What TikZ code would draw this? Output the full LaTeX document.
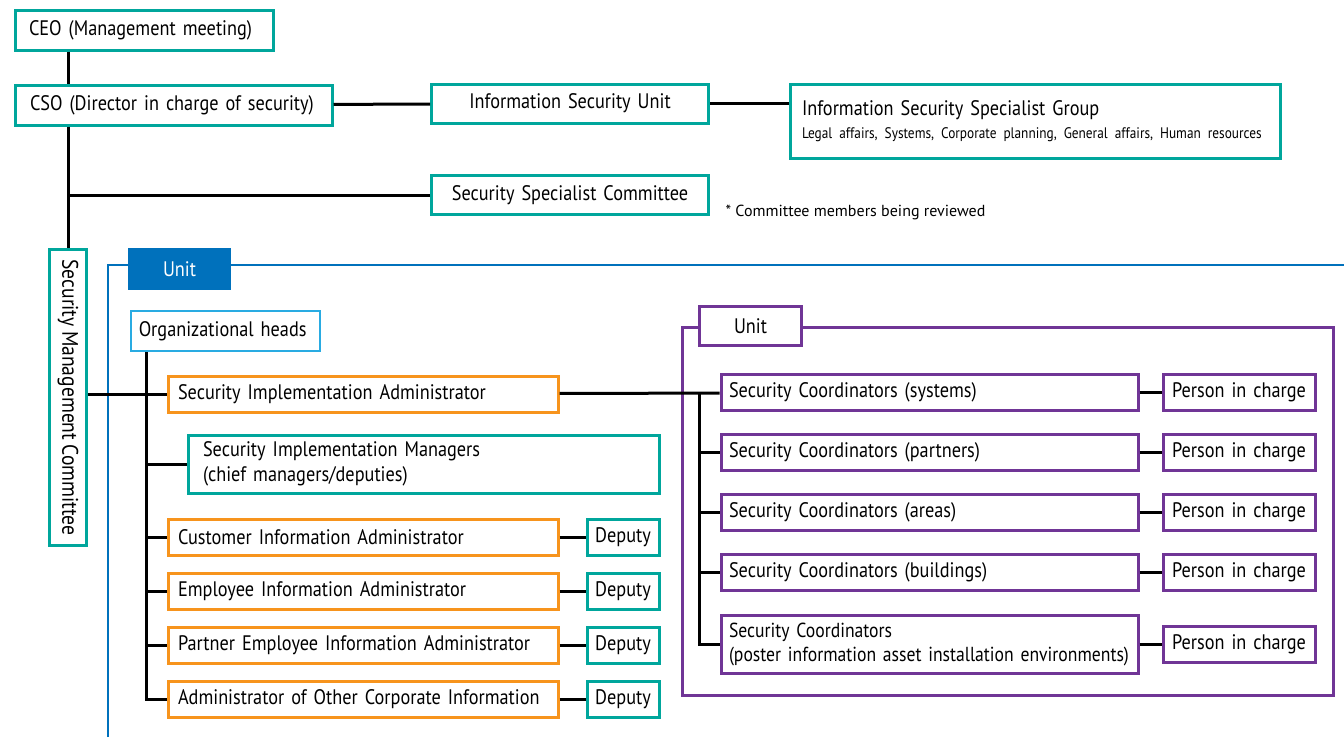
\documentclass[tikz,border=0pt]{standalone}
\usepackage{fontspec}
\setmainfont[FakeStretch=0.87, WordSpace=0.85]{PT Sans}
\newfontfamily\widefont{PT Sans}
\usetikzlibrary{positioning}

\definecolor{tealc}{RGB}{0,166,156}
\definecolor{orangec}{RGB}{247,148,29}
\definecolor{purplec}{RGB}{112,53,150}
\definecolor{bluec}{RGB}{0,113,188}
\definecolor{skyc}{RGB}{41,171,226}

\begin{document}
\begin{tikzpicture}[
						x=1pt, y=-1pt,
						font=\fontsize{21}{25}\selectfont,
						box/.style = {draw, rectangle, line width=3pt, inner xsep=15pt, inner ysep=0pt, align=left},
						tbox/.style = {box, draw=tealc},
						obox/.style = {box, draw=orangec, inner xsep=10pt, text width=370pt, minimum height=36pt},
						pbox/.style = {box, draw=purplec, inner xsep=8pt, text width=401pt, minimum height=36pt},
						dbox/.style = {box, draw=tealc, inner xsep=4pt, text width=64pt, align=center, minimum height=36pt},
						cbox/.style = {box, draw=purplec, inner xsep=4pt, text width=144pt, align=center, minimum height=36pt},
						link/.style = {line width=3pt}
					]
\useasboundingbox (0,0) rectangle (1344,737);

\draw[bluec, line width=2.5pt] (108,737) -- (108,265) -- (1344,265);
\draw[purplec, line width=2.5pt] (682.5,327.5) rectangle (1333.5,695.5);

\node[tbox, inner xsep=14pt, text width=230pt, minimum height=40pt, anchor=north west] (ceo) at (13.5,8.5) {CEO (Management meeting)};
\node[tbox, text width=287pt, minimum height=40pt, anchor=north west] (cso) at (13.5,83.5) {CSO (Director in charge of security)};
\node[tbox, text width=247pt, align=center, minimum height=39pt] (isu) at (570,103.5) {Information Security Unit};
\node[tbox, inner xsep=12pt, text width=466pt, minimum height=74pt, anchor=north west] (issg) at (788.5,82.5) {Information Security Specialist Group\\[-2pt]{\fontsize{15.3}{18}\selectfont Legal affairs, Systems, Corporate planning, General affairs, Human resources}};
\node[tbox, text width=247pt, align=center, minimum height=39pt] (ssc) at (570,195) {Security Specialist Committee};
\node[anchor=west, font=\fontsize{16}{19}\widefont] (note) at (722,212) {* Committee members being reviewed};
\node[tbox, minimum width=37pt, minimum height=296pt, inner sep=0pt, align=center, font=\fontsize{22.5}{25}\selectfont] (smc) at (68,397.5) {\rotatebox{-90}{Security Management Committee}};

\node[fill=bluec, text=white, minimum width=103pt, minimum height=42pt, inner sep=0pt] (unit) at (179.5,269) {Unit};
\node[box, draw=skyc, line width=2.5pt, inner xsep=8pt, text width=173pt, minimum height=40pt, anchor=north west] (heads) at (129.5,309.5) {Organizational heads};
\node[obox, anchor=north west] (sia) at (166.5,374.5) {Security Implementation Administrator};
\node[tbox, text width=441pt, minimum height=58pt, anchor=north west] (sim) at (186.5,433.5) {Security Implementation Managers\\(chief managers/deputies)};
\node[obox, anchor=north west] (cia) at (166.5,517.5) {Customer Information Administrator};
\node[obox] (eia) [below=15pt of cia] {Employee Information Administrator};
\node[obox] (pia) [below=15pt of eia] {Partner Employee Information Administrator};
\node[obox] (oci) [below=15pt of pia] {Administrator of Other Corporate Information};
\node[dbox] (d1) [right=26pt of cia] {Deputy};
\node[dbox] (d2) [right=26pt of eia] {Deputy};
\node[dbox] (d3) [right=26pt of pia] {Deputy};
\node[dbox] (d4) [right=26pt of oci] {Deputy};

\node[box, draw=purplec, line width=2.5pt, fill=white, minimum width=102pt, minimum height=39pt, inner sep=0pt, align=center] (unit2) at (750.5,326) {Unit};
\node[pbox, anchor=west] (sc1) at (719.5,392.5) {Security Coordinators (systems)};
\node[pbox] (sc2) [below=21pt of sc1] {Security Coordinators (partners)};
\node[pbox] (sc3) [below=21pt of sc2] {Security Coordinators (areas)};
\node[pbox] (sc4) [below=21pt of sc3] {Security Coordinators (buildings)};
\node[pbox, minimum height=58pt, font=\fontsize{20.3}{24}\selectfont] (sc5) [below=22pt of sc4] {Security Coordinators\\\mbox{(poster information asset installation environments)}};
\node[cbox] (p1) [right=22pt of sc1] {Person in charge};
\node[cbox] (p2) [right=22pt of sc2] {Person in charge};
\node[cbox] (p3) [right=22pt of sc3] {Person in charge};
\node[cbox] (p4) [right=22pt of sc4] {Person in charge};
\node[cbox] (p5) [right=22pt of sc5] {Person in charge};

\coordinate (t1) at ([xshift=17pt]heads.south west);
\coordinate (t2) at ([xshift=-20pt]sc1.west);

\draw[link] (ceo.south -| smc) -- (cso.north -| smc);
\draw[link] (cso.south -| smc) -- (smc);
\draw[link] (ssc -| smc) -- (ssc);
\draw[link] (cso) -- (isu);
\draw[link] (isu.east) -- (isu.east -| issg.west);
\draw[link] (smc.east |- sia) -- (sia);
\draw[link] (t1) |- (oci);
\draw[link] (t1 |- sim) -- (sim);
\draw[link] (t1 |- cia) -- (cia);
\draw[link] (t1 |- eia) -- (eia);
\draw[link] (t1 |- pia) -- (pia);
\draw[link] (cia) -- (d1);
\draw[link] (eia) -- (d2);
\draw[link] (pia) -- (d3);
\draw[link] (oci) -- (d4);
\draw[link] (sia) -- (sc1);
\draw[link] (t2) |- (sc5);
\draw[link] (t2 |- sc2) -- (sc2);
\draw[link] (t2 |- sc3) -- (sc3);
\draw[link] (t2 |- sc4) -- (sc4);
\draw[link] (sc1) -- (p1);
\draw[link] (sc2) -- (p2);
\draw[link] (sc3) -- (p3);
\draw[link] (sc4) -- (p4);
\draw[link] (sc5) -- (p5);
\end{tikzpicture}
\end{document}
